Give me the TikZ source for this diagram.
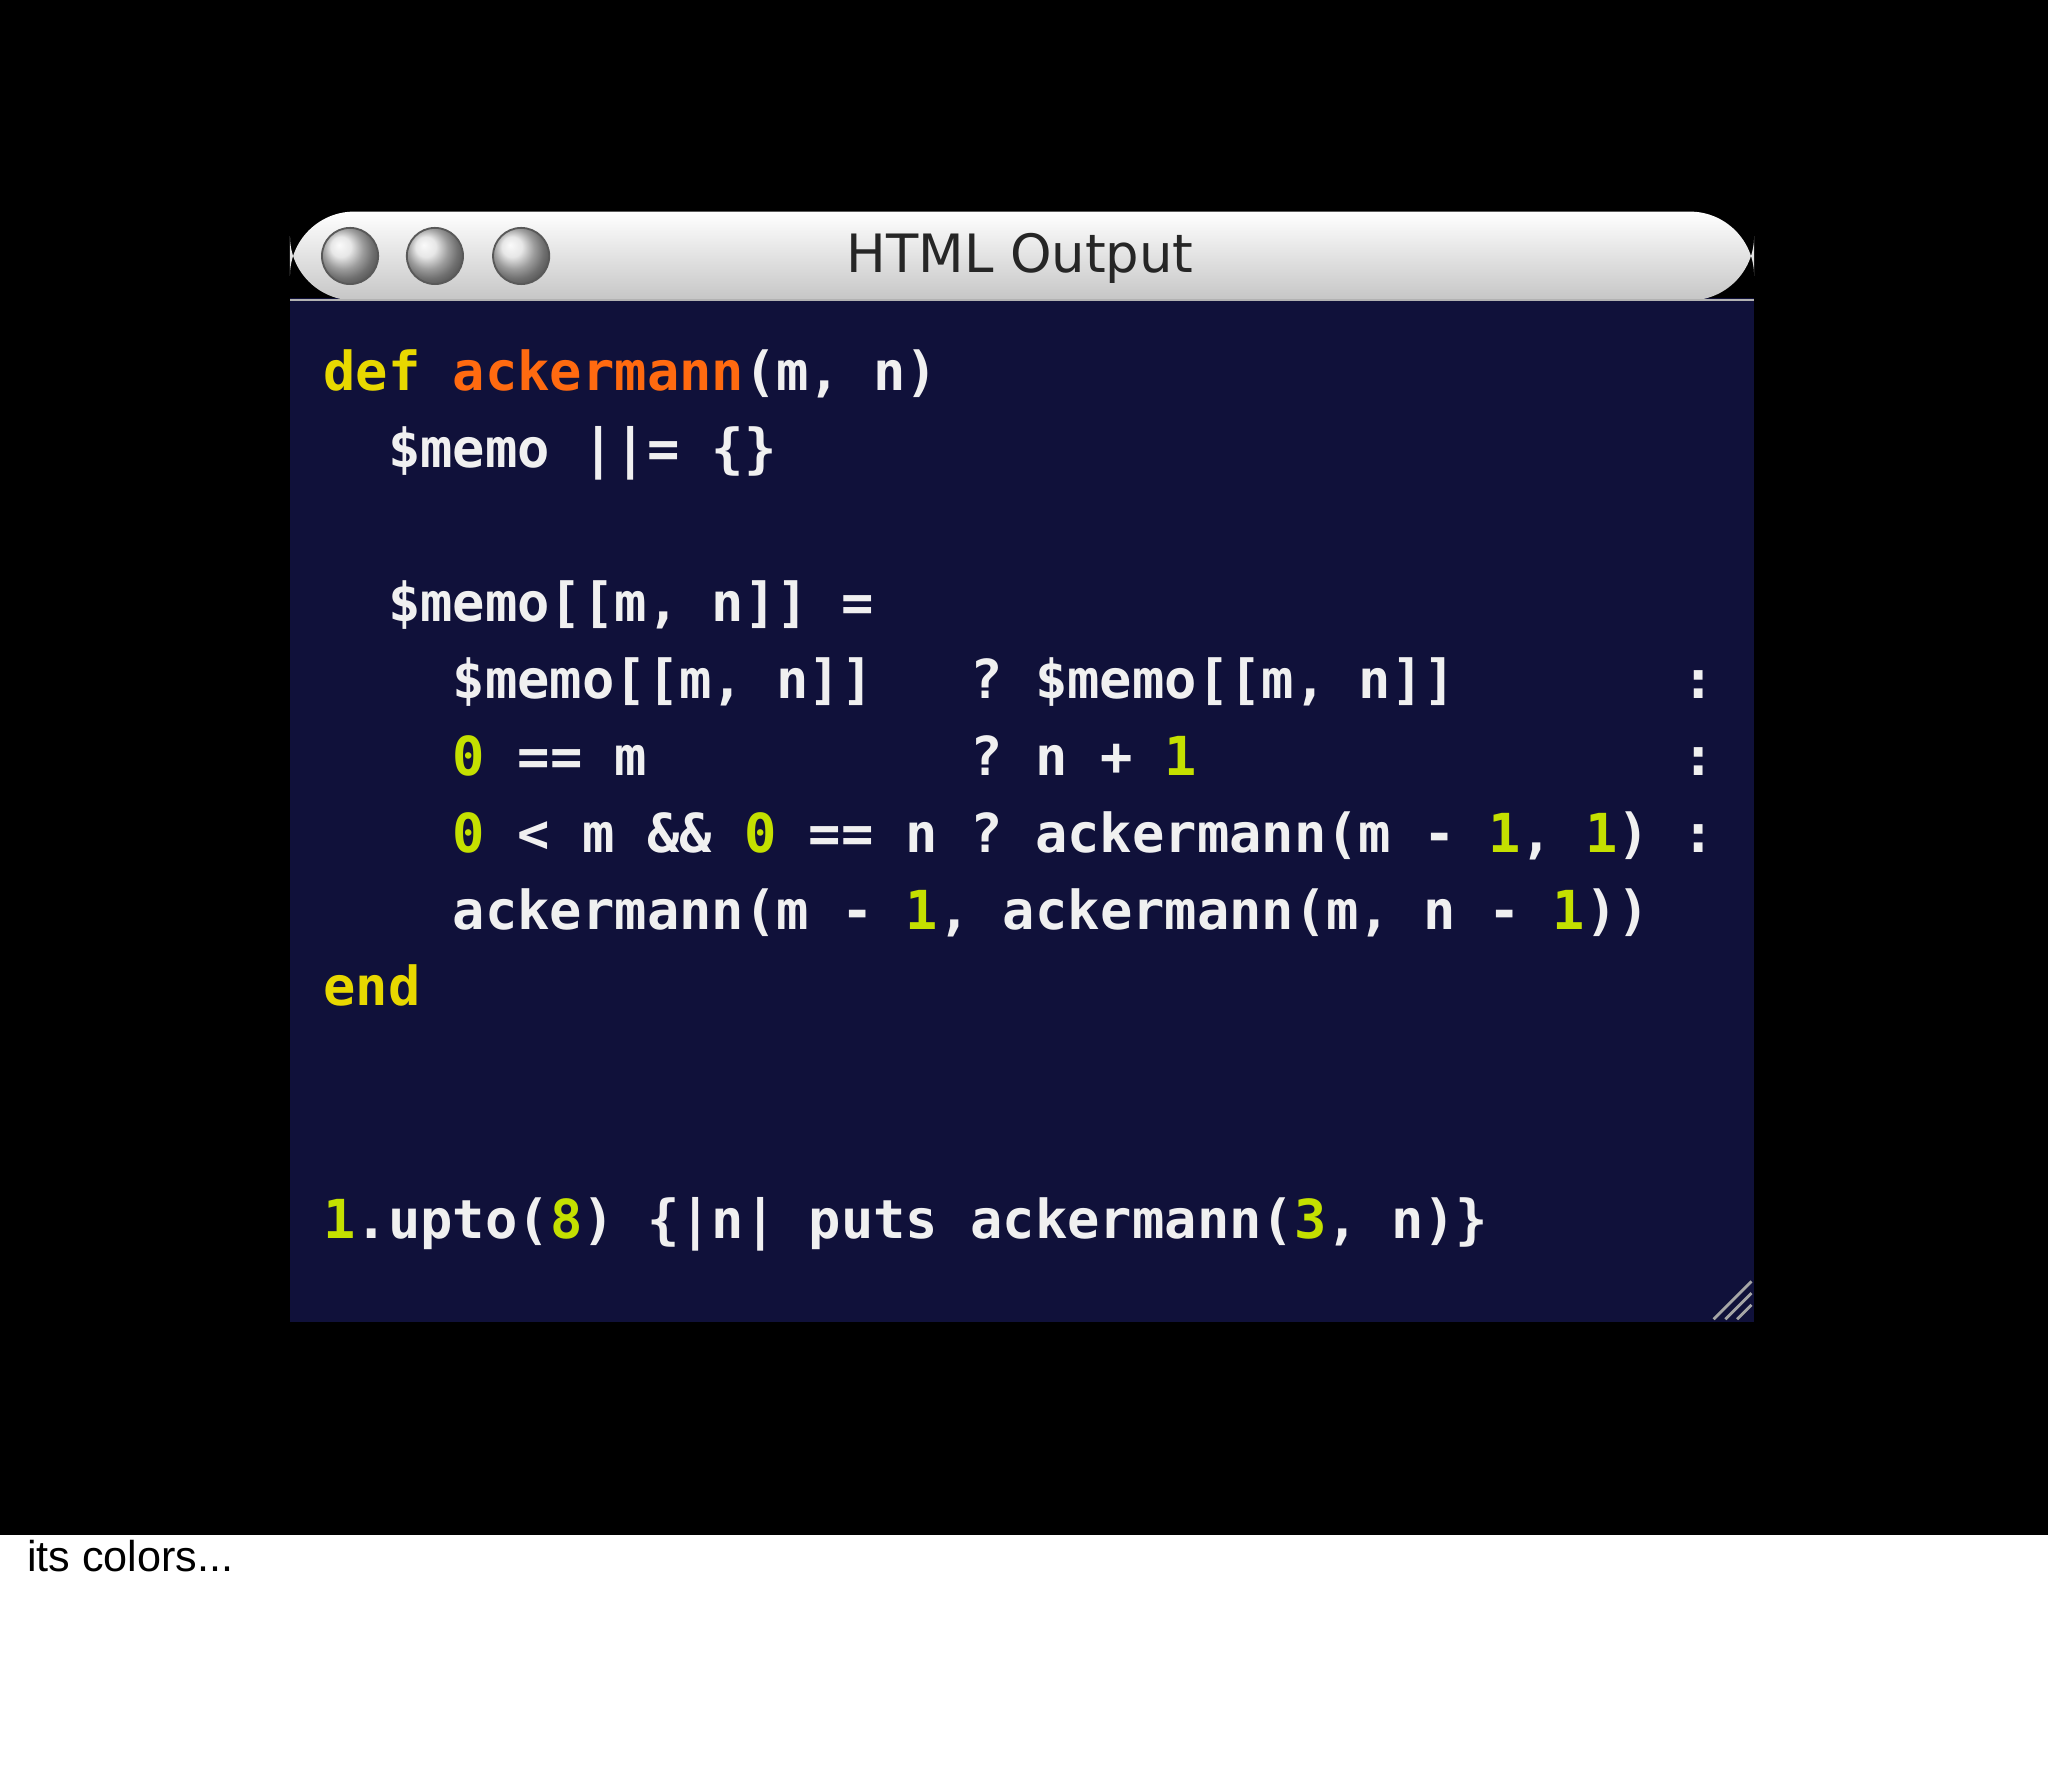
\documentclass[tikz,border=0pt]{standalone}
\usepackage{fontspec}
\setmonofont{DejaVu Sans Mono}
\setsansfont{Liberation Sans}
\newfontfamily\titlefont{DejaVu Sans}
\definecolor{navy}{HTML}{10113A}
\definecolor{kw}{HTML}{E8D800}
\definecolor{fn}{HTML}{FF6A10}
\definecolor{num}{HTML}{C4E000}
\definecolor{txt}{HTML}{F0F0F0}
\newcommand{\K}[1]{\textcolor{kw}{#1}}
\newcommand{\F}[1]{\textcolor{fn}{#1}}
\newcommand{\N}[1]{\textcolor{num}{#1}}
\begin{document}
\begin{tikzpicture}[x=0.01cm,y=-0.01cm,
  code/.style={anchor=base west,inner sep=0pt,text=txt,font=\ttfamily\bfseries\fontsize{11.7}{14}\selectfont},
  btn/.style={circle,minimum size=0.43cm,inner sep=0pt,draw=gray!70!black,ball color=gray!25}]
\useasboundingbox (0,0) rectangle (1568,1352);
\fill[black] (0,0) rectangle (1568,1175);
\fill[white] (0,1175) rectangle (1568,1352);
\fill[navy] (222,228) rectangle (1343,1012);
\shade[top color=white,bottom color=gray!45,rounded corners=14pt] (222,230) -- (222,162) -- (1343,162) -- (1343,230) -- cycle;
\draw[gray!60] (222,230) -- (1343,230);
\node[btn] (b1) at (268,196) {};
\node[btn] (b2) at (333,196) {};
\node[btn] (b3) at (399,196) {};
\node[font=\titlefont\fontsize{11.5}{13}\selectfont,text=black!85] (title) at (781,198) {HTML Output};
\foreach \d in {0,9,18}{\draw[gray!70,line width=0.6pt] (1312+\d,1010) -- (1341,981+\d);}
\node[code] (l1) at (247,299) {\K{def} \F{ackermann}(m, n)};
\node[code] (l2) at (247,358) {~~\$memo ||= \{\}};
\node[code] (l4) at (247,476) {~~\$memo[[m, n]] =};
\node[code] (l5) at (247,535) {~~~~\$memo[[m, n]]~~~? \$memo[[m, n]]~~~~~~~:};
\node[code] (l6) at (247,594) {~~~~\N{0} == m~~~~~~~~~~? n + \N{1}~~~~~~~~~~~~~~~:};
\node[code] (l7) at (247,653) {~~~~\N{0} < m \&\& \N{0} == n ? ackermann(m - \N{1}, \N{1}) :};
\node[code] (l8) at (247,712) {~~~~ackermann(m - \N{1}, ackermann(m, n - \N{1}))};
\node[code] (l9) at (247,770) {\K{end}};
\node[code] (l10) at (247,948) {\N{1}.upto(\N{8}) \{|n| puts ackermann(\N{3}, n)\}};
\node[anchor=base west,inner sep=0pt,align=left,font=\sffamily\fontsize{9.4}{10}\selectfont] (cap) at (20,1203) {When you press Execute, TextMate brings up a new window with highlighted code that remembers\\its colors...};
\end{tikzpicture}
\end{document}
